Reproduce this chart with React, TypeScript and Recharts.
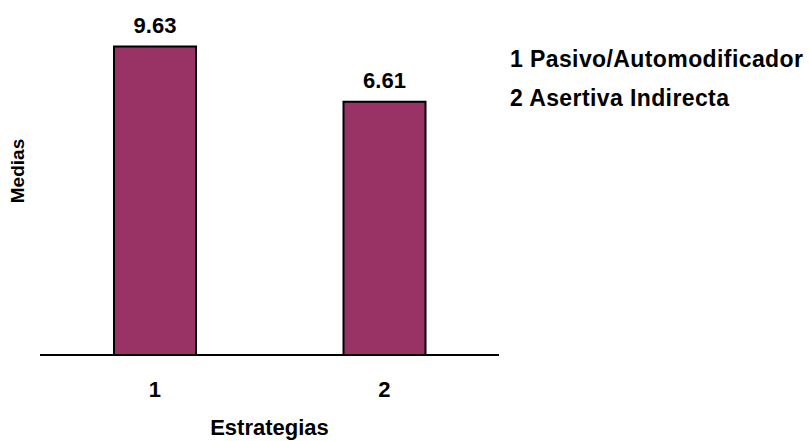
import { BarChart, Bar, XAxis, YAxis, LabelList, Legend } from 'recharts'

// medias por estrategia
const categorias = ['1', '2']
const nombres = ['Pasivo/Automodificador', 'Asertiva Indirecta']
const medias = [9.63, 6.61]

// el eje de valores no arranca en cero
const EJE_MIN = -7.25
const EJE_MAX = 11.08

const FONT = '"Liberation Sans", Arial, Helvetica, sans-serif'
const BAR_COLOR = '#993366'
const texto = { fontFamily: FONT, fontWeight: 700, fontSize: 22, fill: '#000' }

const data = categorias.map((c, i) => ({ estrategia: c, nombre: nombres[i], media: medias[i] }))

const MediasLabel = () => (
  <text
    x={17.5}
    y={171}
    transform="rotate(-90 17.5 171)"
    textAnchor="middle"
    dominantBaseline="central"
    style={{ ...texto, fontSize: 19 }}
  >
    Medias
  </text>
)

const Clave = () => (
  <div style={{ fontFamily: FONT, fontWeight: 700, fontSize: 23, letterSpacing: 0.4, lineHeight: '39px', color: '#000', whiteSpace: 'nowrap' }}>
    {data.map(d => (
      <div key={d.estrategia}>{d.estrategia} {d.nombre}</div>
    ))}
  </div>
)

export default function App() {
  return (
    <div style={{ position: 'fixed', left: 0, top: 0, width: 809, height: 441, background: '#fff' }}>
      <BarChart
        width={809}
        height={441}
        data={data}
        margin={{ top: 20, right: 310, left: 0, bottom: 0 }}
      >
        <XAxis
          dataKey="estrategia"
          height={86}
          axisLine={{ stroke: '#000', strokeWidth: 2 }}
          tickLine={false}
          tickSize={0}
          tickMargin={26}
          tick={texto}
          label={{ value: 'Estrategias', position: 'insideBottom', offset: 6, style: texto }}
        />
        <YAxis
          width={40}
          domain={[EJE_MIN, EJE_MAX]}
          axisLine={false}
          tickLine={false}
          tick={false}
          label={<MediasLabel />}
        />
        {/* centro/medio: la clave no resta espacio al área del gráfico */}
        <Legend
          layout="horizontal"
          verticalAlign="middle"
          align="center"
          content={<Clave />}
          wrapperStyle={{ left: 510, top: 40, width: 299 }}
        />
        <Bar
          dataKey={(d: { media: number }) => [EJE_MIN, d.media]}
          fill={BAR_COLOR}
          stroke="#000"
          strokeWidth={2}
          barSize={82}
          isAnimationActive={false}
        >
          <LabelList
            dataKey="media"
            position="top"
            offset={14}
            formatter={(v: number) => v.toFixed(2)}
            style={texto}
          />
        </Bar>
      </BarChart>
    </div>
  )
}
